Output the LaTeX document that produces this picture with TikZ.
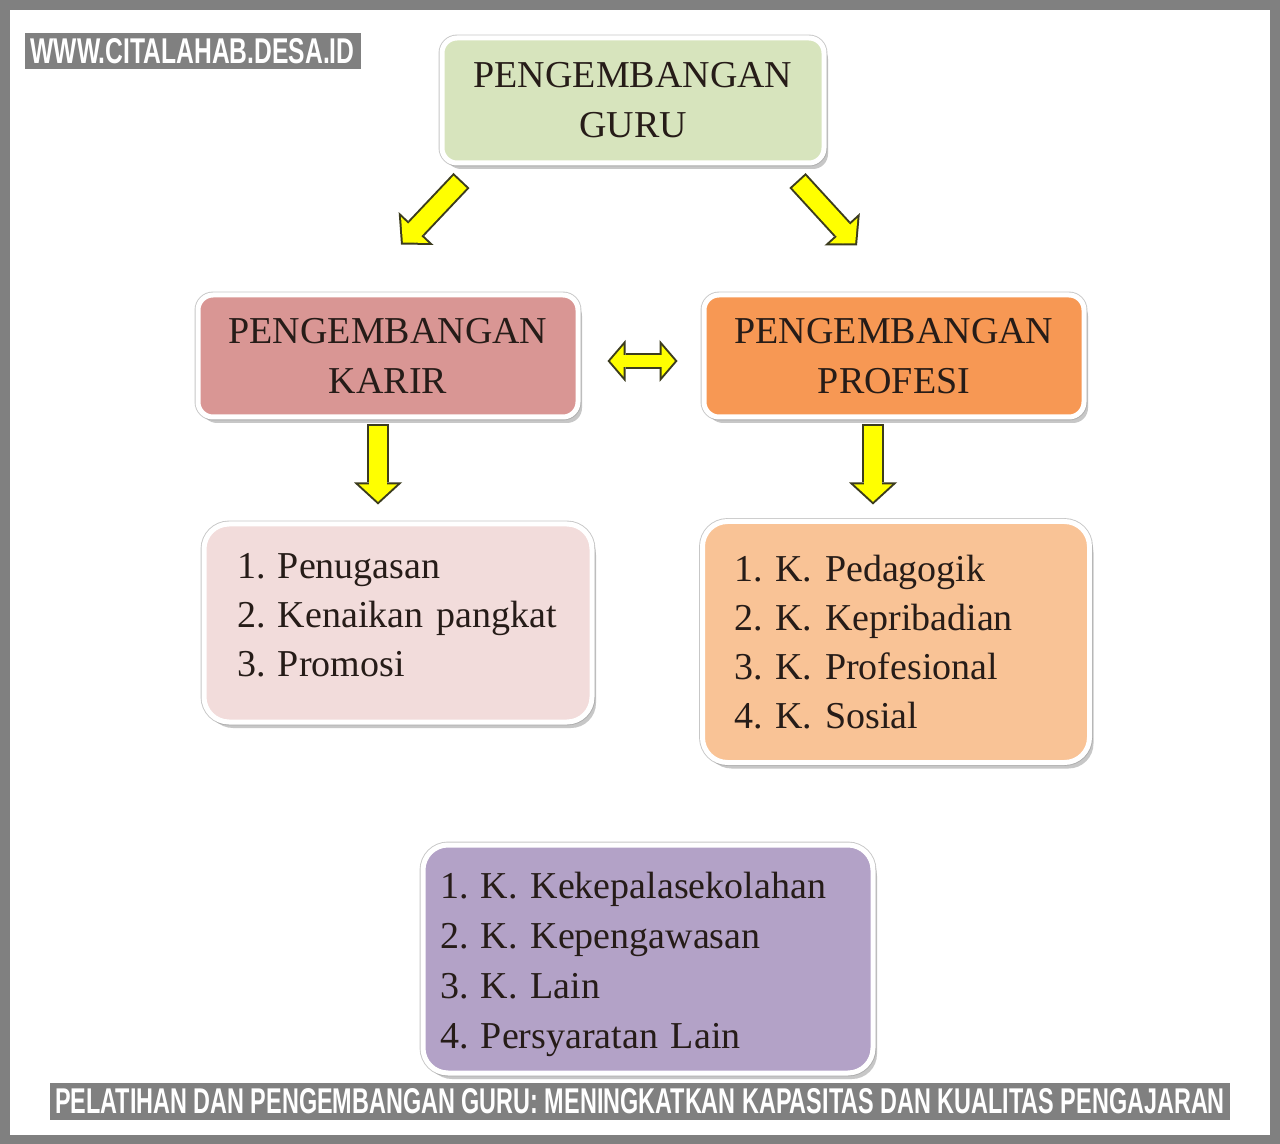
\documentclass[tikz,border=0pt]{standalone}
\usepackage{fontspec}
\setmainfont{Liberation Serif}
\setsansfont{Liberation Sans}
\usetikzlibrary{arrows.meta, calc, shadows}

\definecolor{framegray}{RGB}{128,128,128}
\definecolor{textdark}{RGB}{38,28,24}
\definecolor{guruc}{RGB}{215,228,189}
\definecolor{karirc}{RGB}{217,150,148}
\definecolor{profesic}{RGB}{247,152,84}
\definecolor{karirlistc}{RGB}{242,220,219}
\definecolor{profesilistc}{RGB}{249,195,150}
\definecolor{lainc}{RGB}{179,162,199}
\definecolor{arrowyellow}{RGB}{255,255,0}
\definecolor{arrowedge}{RGB}{60,60,30}

\newcommand{\li}[2]{\makebox[20.5pt][l]{#1.}#2}

\begin{document}
\begin{tikzpicture}[x=0.5pt, y=-0.5pt,
        box/.style={rectangle, draw=white, line width=2.5pt, text=textdark, inner sep=0pt,
            preaction={draw=black!22, line width=3.4pt},
            drop shadow={shadow xshift=2pt, shadow yshift=-3pt, fill=black!40, opacity=0.55}},
        headbox/.style={box, rounded corners=7.5pt, align=center,
            font=\fontsize{19pt}{25pt}\selectfont, minimum width=190pt, minimum height=61pt},
        listbox/.style={box, rounded corners=12.5pt, align=left,
            font=\fontsize{19pt}{24.5pt}\selectfont},
        banner/.style={rectangle, fill=framegray, text=white, inner sep=0pt,
            font=\sffamily\bfseries},
        yarrow/.style={draw=arrowyellow, line width=9pt, line cap=rect,
            shorten <=5.5pt, shorten >=1.36pt,
            -{Triangle[length=8.64pt, width=18.85pt, line width=0pt]},
            preaction={draw=arrowedge, line width=11pt, line cap=butt,
                shorten <=0pt, shorten >=0pt,
                -{Triangle[length=11pt, width=24pt, line width=0pt]}}},
        ydarrow/.style={draw=arrowyellow, line width=6pt, line cap=rect,
            shorten <=1.32pt, shorten >=1.32pt,
            {Triangle[length=6.68pt, width=15.6pt, line width=0pt]}-{Triangle[length=6.68pt, width=15.6pt, line width=0pt]},
            preaction={draw=arrowedge, line width=8pt, line cap=butt,
                shorten <=0pt, shorten >=0pt,
                {Triangle[length=9pt, width=21pt, line width=0pt]}-{Triangle[length=9pt, width=21pt, line width=0pt]}}},
        ]
        %Frame
        \fill[framegray] (0,0) rectangle (1280,1144);
        \fill[white] (10,10) rectangle (1270,1135);

        %Nodes
        \node[headbox, fill=guruc, minimum width=191pt, minimum height=62.5pt] (guru) at (633,100.5) {PENGEMBANGAN\\GURU};
        \node[headbox, fill=karirc]     (karir)   at (388,356) {PENGEMBANGAN\\KARIR};
        \node[headbox, fill=profesic]   (profesi) at (894,356) {PENGEMBANGAN\\PROFESI};

        \node[listbox, fill=karirlistc, text width=161pt, inner xsep=16.5pt, minimum height=99pt] (karirlist) at (398,623)
            {\li{1}{Penugasan}\\ \li{2}{Kenaikan pangkat}\\ \li{3}{Promosi}\rule[-8pt]{0pt}{8pt}};
        \node[listbox, fill=profesilistc, text width=161.5pt, inner xsep=16pt, minimum height=120.5pt] (profesilist) at (896,642)
            {\li{1}{K. Pedagogik}\\ \li{2}{K. Kepribadian}\\ \li{3}{K. Profesional}\\ \li{4}{K. Sosial}};
        \node[listbox, fill=lainc, text width=208pt, inner xsep=8.5pt, minimum height=114pt,
            font=\fontsize{19pt}{25pt}\selectfont] (lain) at (648,959)
            {\rule{0pt}{19pt}\li{1}{K. Kekepalasekolahan}\\ \li{2}{K. Kepengawasan}\\ \li{3}{K. Lain}\\ \li{4}{Persyaratan Lain}};

        \node[banner, minimum width=168pt, minimum height=18pt] (site) at (192.5,51)
            {\resizebox{162pt}{12.5pt}{WWW.CITALAHAB.DESA.ID}};
        \node[banner, minimum width=590pt, minimum height=18.5pt] (caption) at (640,1101.5)
            {\resizebox{585pt}{12.5pt}{PELATIHAN DAN PENGEMBANGAN GURU: MENINGKATKAN KAPASITAS DAN KUALITAS PENGAJARAN}};

        %Lines
        \draw[yarrow] ($(guru.south west)+(22,15)$) -- ($(karir.north)+(13,-48)$);
        \draw[yarrow] ($(guru.south east)+(-29,15)$) -- ($(profesi.north)+(-37,-47)$);
        \draw[ydarrow] ($(karir.east)+(27,5)$) -- ($(profesi.west)+(-24,5)$);
        \draw[yarrow] ($(karir.south)+(-10,5)$) -- ($(karirlist.north)+(-20,-17)$);
        \draw[yarrow] ($(profesi.south)+(-21,5)$) -- ($(profesilist.north)+(-23,-14.5)$);
\end{tikzpicture}
\end{document}
